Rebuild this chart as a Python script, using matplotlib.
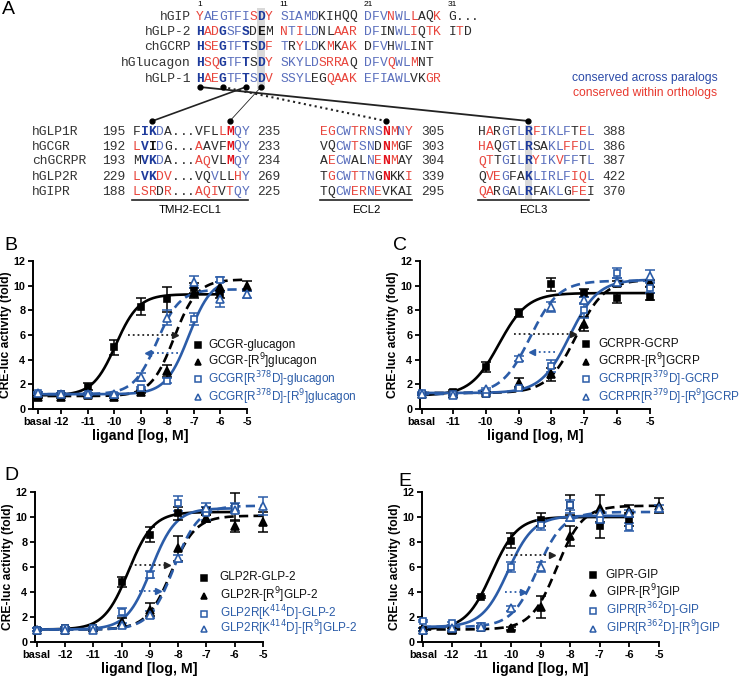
import numpy as np
import matplotlib.pyplot as plt

plt.rcParams['font.family'] = ['Liberation Sans', 'DejaVu Sans']

W, H = 745, 677

# ---------------- panel A: sequence alignments ----------------
top_names = ['hGIP', 'hGLP-2', 'chGCRP', 'hGlucagon', 'hGLP-1']
top_seqs = ['YAEGTFISDY SIAMDKIHQQ DFVNWLLAQK G...',
            'HADGSFSDEM NTILDNLAAR DFINWLIQTK ITD',
            'HSEGTFTSDF TRYLDKMKAK DFVHWLINT',
            'HSQGTFTSDY SKYLDSRRAQ DFVQWLMNT',
            'HAEGTFTSDV SSYLEGQAAK EFIAWLVKGR']
top_cols = ['rbbbbbbrBr bbbbbkkkkk bbbrbbrkkr kkkk',
            'BrrBbbBkKk rbrbbkkrrr bbkkbbrkrr krk',
            'BrrBbbBkBr bkrbbkrkrr kbbkbbkkk',
            'BrrBbbBkBr bbbbbrrrrk bbbrbbrkk',
            'BrrBbbBbBr bbbbkkrrrr bbbbbbkkrr']
top_numbers = ['1', '11', '21', '31']

bot_names = ['hGLP1R', 'hGCGR', 'chGCRPR', 'hGLP2R', 'hGIPR']
tm_start = ['195', '192', '193', '229', '188']
tm_seqs = ['FIKDA...VFLLMQY', 'LVIDG...AAVFMQY', 'MVKDA...AQVLMQY',
           'LVKDV...VQVLLHY', 'LSRDR...AQIVTQY']
tm_cols = ['kBBbkkkkkkkrRbb', 'rBKbkkkkrkkkRbb', 'kBBbkkkkrrkkRbb',
           'rBBrrkkkkkbkkrb', 'rrrkrkkkrrrkrbb']
tm_end = ['235', '233', '234', '269', '225']
ecl2_seqs = ['EGCWTRNSNMNY', 'VQCWTSNDNMGF', 'AECWALNENMAY',
             'TGCWTTNGNKKI', 'TQCWERNEVKAI']
ecl2_cols = ['rrbbrrbbRrbr', 'kkbbrbbkRrkk', 'krbbkkbrRrkk',
             'krbbrbbkRkkr', 'kkbbrrbrkkkk']
ecl2_end = ['305', '303', '304', '339', '295']
ecl3_seqs = ['HARGTLRFIKLFTEL', 'HAQGTLRSAKLFFDL', 'QTTGILRYIKVFFTL',
             'QVEGFAKLIRLFIQL', 'QARGALRFAKLGFEI']
ecl3_cols = ['krkbkbBrbbbbkrb', 'rrkbkbBkkbbrrbb', 'rrkbkbBrbbrbbkb',
             'krrbkkBbbbbbrrb', 'rrkbkbBkkbbkrrk']
ecl3_end = ['388', '386', '387', '422', '370']

# ---------------- panels B-E: CRE-luc data ----------------
BLUE = '#2b5ca8'
series_styles = [('s', 'k', True, '-'), ('^', 'k', True, '--'),
                 ('s', BLUE, False, '-'), ('^', BLUE, False, '--')]

b_labels = ['basal', '-12', '-11', '-10', '-9', '-8', '-7', '-6', '-5']
b_legend = ['GCGR-glucagon', 'GCGR-[R$^9$]glucagon',
            'GCGR[R$^{378}$D]-glucagon', 'GCGR[R$^{378}$D]-[R$^9$]glucagon']
b_y = [[1.1, 1.2, 1.8, 5.0, 8.3, 8.9, 9.8, 9.3, np.nan],
       [1.0, 1.0, 1.1, 1.0, 1.4, 3.1, 9.4, 9.9, 10.0],
       [1.3, 1.2, 1.2, 1.1, 1.7, 2.3, 7.3, 10.5, np.nan],
       [1.3, 1.2, 1.2, 1.2, 2.6, 7.4, 10.3, 8.9, 9.3]]
b_err = [[0.1, 0.1, 0.3, 0.6, 0.7, 1.0, 0.4, 0.3, np.nan],
         [0.1, 0.1, 0.1, 0.1, 0.1, 0.5, 0.4, 0.4, 0.4],
         [0.1, 0.1, 0.1, 0.1, 0.1, 0.2, 0.5, 0.2, np.nan],
         [0.1, 0.1, 0.1, 0.1, 0.3, 0.6, 0.5, 0.6, 0.3]]
b_fit = [(1.1, 9.3, -9.95), (1.05, 10.5, -7.75), (1.2, 10.6, -7.2), (1.2, 9.7, -8.4)]
b_arrows = [(6.0, -9.5, -7.7), (4.5, -7.6, -8.75)]

c_labels = ['basal', '-11', '-10', '-9', '-8', '-7', '-6', '-5']
c_legend = ['GCRPR-GCRP', 'GCRPR-[R$^9$]GCRP',
            'GCRPR[R$^{379}$D]-GCRP', 'GCRPR[R$^{379}$D]-[R$^9$]GCRP']
c_y = [[1.2, 1.4, 3.4, 7.8, 10.1, 9.4, 9.0, 9.1],
       [1.2, 1.2, 1.3, 2.1, 2.8, 6.9, 10.2, 10.2],
       [1.3, 1.2, 1.2, 1.7, 3.5, 8.0, 11.0, 9.8],
       [1.2, 1.1, 1.6, 4.1, 8.3, 8.8, 10.3, 10.8]]
c_err = [[0.1, 0.1, 0.4, 0.3, 0.5, 0.3, 0.4, 0.3],
         [0.1, 0.1, 0.1, 0.4, 0.5, 0.6, 0.2, 0.3],
         [0.1, 0.1, 0.1, 0.1, 0.5, 0.6, 0.4, 0.4],
         [0.1, 0.1, 0.1, 0.2, 0.4, 0.3, 0.3, 0.5]]
c_fit = [(1.1, 9.4, -9.6), (1.3, 10.5, -7.25), (1.3, 10.5, -7.45), (1.2, 10.4, -8.65)]
c_arrows = [(6.1, -9.15, -7.35), (4.6, -7.9, -8.6)]

d_labels = ['basal', '-12', '-11', '-10', '-9', '-8', '-7', '-6', '-5']
d_legend = ['GLP2R-GLP-2', 'GLP2R-[R$^9$]GLP-2',
            'GLP2R[K$^{414}$D]-GLP-2', 'GLP2R[K$^{414}$D]-[R$^9$]GLP-2']
d_y = [[1.0, 1.1, 1.1, 4.8, 8.6, 10.3, 10.5, 10.8, np.nan],
       [1.0, 1.0, 1.1, 1.6, 2.6, 7.5, 9.9, 9.3, 9.6],
       [1.0, 1.1, 1.1, 2.4, 5.4, 11.1, 10.3, 10.8, np.nan],
       [1.0, 1.0, 1.0, 1.4, 2.2, 6.7, 10.7, 10.6, 10.9]]
d_err = [[0.1, 0.1, 0.1, 0.4, 0.6, 0.5, 0.3, 1.1, np.nan],
         [0.1, 0.1, 0.1, 0.3, 0.5, 1.0, 0.3, 0.5, 0.8],
         [0.1, 0.1, 0.1, 0.3, 0.3, 0.6, 0.5, 0.3, np.nan],
         [0.1, 0.1, 0.1, 0.1, 0.3, 0.3, 0.4, 0.3, 0.7]]
d_fit = [(1.0, 10.4, -9.75), (1.0, 10.1, -8.25), (1.0, 10.7, -8.95), (1.0, 10.9, -8.15)]
d_arrows = [(6.2, -9.7, -8.4), (4.1, -9.4, -8.7)]

e_labels = ['basal', '-12', '-11', '-10', '-9', '-8', '-7', '-6', '-5']
e_legend = ['GIPR-GIP', 'GIPR-[R$^9$]GIP',
            'GIPR[R$^{362}$D]-GIP', 'GIPR[R$^{362}$D]-[R$^9$]GIP']
e_y = [[1.0, 0.95, 3.6, 8.1, 9.8, 11.0, 9.3, 9.8, np.nan],
       [1.0, 1.0, 1.2, 1.1, 2.8, 8.5, 10.7, 10.5, 10.9],
       [1.7, 1.5, 1.3, 6.0, 9.4, 11.0, 9.8, 9.2, np.nan],
       [1.0, 1.1, 1.2, 2.7, 6.0, 10.0, 10.3, 10.3, 10.7]]
e_err = [[0.1, 0.2, 0.1, 0.6, 0.5, 0.8, 1.0, 0.5, np.nan],
         [0.1, 0.1, 0.1, 0.1, 0.9, 0.8, 1.1, 0.5, 0.6],
         [0.1, 0.1, 0.2, 0.4, 0.4, 0.4, 0.3, 0.3, np.nan],
         [0.1, 0.1, 0.1, 0.2, 0.4, 0.3, 0.2, 0.3, 0.3]]
e_fit = [(1.0, 10.0, -10.65), (1.0, 10.9, -8.45), (1.2, 10.1, -10.1), (1.2, 10.4, -9.1)]
e_arrows = [(7.0, -10.15, -8.6), (4.0, -10.2, -9.6)]

COLMAP = {'r': '#e8453c', 'R': '#e3121b', 'b': '#5a6fbd', 'B': '#1d3a9c',
          'k': '#2a2a2a', 'K': '#111111'}
MONO = 'Liberation Mono'

fig = plt.figure(figsize=(W / 100, H / 100), dpi=100)

ax_a = fig.add_axes([0, 0, 1, 1])
ax_a.set_xlim(0, W)
ax_a.set_ylim(H, 0)
ax_a.axis('off')


def put_seq(x0, y, seq, cols, cw, fs=9.4):
    for j, (ch, c) in enumerate(zip(seq, cols)):
        if ch == ' ':
            continue
        ax_a.text(x0 + j * cw + cw / 2, y, ch, ha='center', va='center', fontsize=fs,
                  family=MONO, color=COLMAP[c],
                  fontweight='bold' if c.isupper() else 'normal')


ax_a.text(2, 10, 'A', fontsize=14, va='center', ha='left')

# top alignment
tx0, tcw = 196, 7.65
top_y = [16.5, 32, 47.5, 63, 79]
ax_a.add_patch(plt.Rectangle((tx0 + 8 * tcw, 8), tcw, 81, color='#d9d9d9', zorder=0, lw=0))
for lab, col in zip(top_numbers, [0, 11, 22, 33]):
    ax_a.text(tx0 + col * tcw + tcw / 2, 4, lab, fontsize=6, ha='center', va='center')
for name, seq, cols, y in zip(top_names, top_seqs, top_cols, top_y):
    ax_a.text(191, y, name, ha='right', va='center', fontsize=9.4, family=MONO, color='#333333')
    put_seq(tx0, y, seq, cols, tcw)

ax_a.text(645, 78, 'conserved across paralogs', color='#2b4aa8', fontsize=8.7, ha='center', va='center')
ax_a.text(645, 93, 'conserved within orthologs', color='#e8392f', fontsize=8.7, ha='center', va='center')

# bottom alignment
bcw = 7.75
tm_x0, ecl2_x0, ecl3_x0 = 133, 320, 478
bot_y = [132, 146.5, 161.5, 177, 192]
ax_a.add_patch(plt.Rectangle((ecl3_x0 + 6 * bcw, 125), bcw, 74, color='#d9d9d9', zorder=0, lw=0))
for i, y in enumerate(bot_y):
    ax_a.text(32, y, bot_names[i], ha='left', va='center', fontsize=9.4, family=MONO, color='#333333')
    ax_a.text(tm_x0 - 4 * bcw, y, tm_start[i], ha='left', va='center', fontsize=9.4, family=MONO, color='#333333')
    put_seq(tm_x0, y, tm_seqs[i], tm_cols[i], bcw)
    ax_a.text(tm_x0 + 16 * bcw, y, tm_end[i], ha='left', va='center', fontsize=9.4, family=MONO, color='#333333')
    put_seq(ecl2_x0, y, ecl2_seqs[i], ecl2_cols[i], bcw)
    ax_a.text(ecl2_x0 + 13 * bcw, y, ecl2_end[i], ha='left', va='center', fontsize=9.4, family=MONO, color='#333333')
    put_seq(ecl3_x0, y, ecl3_seqs[i], ecl3_cols[i], bcw)
    ax_a.text(ecl3_x0 + 16 * bcw, y, ecl3_end[i], ha='left', va='center', fontsize=9.4, family=MONO, color='#333333')

for (xa, xb), lab in zip([(132, 248), (320, 412), (478, 589)], ['TMH2-ECL1', 'ECL2', 'ECL3']):
    ax_a.plot([xa, xb], [199.5, 199.5], color='#222222', lw=1.2)
    ax_a.text((xa + xb) / 2, 210, lab, ha='center', va='center', fontsize=8.2)

# connectors between peptide residues and receptor residues
top_dot = {c: (tx0 + c * tcw + tcw / 2, 87) for c in (0, 3, 6, 8)}
bot_dot = {'K': (tm_x0 + 2 * bcw + bcw / 2, 121), 'M': (tm_x0 + 12 * bcw + bcw / 2, 121),
           'N': (ecl2_x0 + 8 * bcw + bcw / 2, 121), 'R': (ecl3_x0 + 6 * bcw + bcw / 2, 121)}
links = [(0, 'R', '-', 1.3), (3, 'N', ':', 1.5), (6, 'K', '-', 1.2), (8, 'M', '-', 0.6)]
for c, key, ls, lw in links:
    (x1, y1), (x2, y2) = top_dot[c], bot_dot[key]
    ax_a.plot([x1, x2], [y1, y2], color='#222222', ls=ls, lw=lw)
for x, y in list(top_dot.values()) + list(bot_dot.values()):
    ax_a.plot(x, y, 'o', color='black', ms=3.5)


# ---------------- dose-response panels ----------------
def px_axes(left, top, right, bottom):
    return fig.add_axes([left / W, 1 - bottom / H, (right - left) / W, (bottom - top) / H])


def draw_panel(ax, labels, basal_x, xmin, ys, errs, fits, arrows, legend, leg_x, leg_dx, leg_rows):
    xs = [basal_x] + [float(l) for l in labels[1:]]
    for (mk, col, filled, ls), y, e, (bot, top, ec50) in zip(series_styles, ys, errs, fits):
        y = np.array(y)
        ok = ~np.isnan(y)
        xv = np.array(xs)[ok]
        ax.errorbar(xv, y[ok], yerr=np.array(e)[ok], fmt='none', ecolor=col,
                    elinewidth=1.1, capsize=3.5, capthick=1.1, zorder=3, clip_on=False)
        ax.plot(xv, y[ok], mk, ms=5 if mk == 's' else 5.5, mec=col, mew=1.2,
                mfc=col if filled else 'white', zorder=4, clip_on=False)
        xc = np.linspace(xmin, xv[-1], 300)
        ax.plot(xc, bot + (top - bot) / (1 + 10 ** (ec50 - xc)), color=col, ls=ls,
                lw=1.9, zorder=2, dashes=(3.5, 2) if ls == '--' else (None, None))
    for (y, xa, xb), col in zip(arrows, ['#222222', BLUE]):
        ax.plot([xa, xb], [y, y], ls=':', color=col, lw=1.3, zorder=5)
        ax.plot(xb, y, '>' if xb > xa else '<', color=col, ms=5, zorder=5)
    for i, (lab, (mk, col, filled, ls)) in enumerate(zip(legend, series_styles)):
        ax.plot(leg_x, leg_rows[i], mk, transform=ax.transAxes, ms=4.5, mec=col, mew=1.1,
                mfc=col if filled else 'white', clip_on=False)
        ax.text(leg_x + leg_dx, leg_rows[i], lab, transform=ax.transAxes, fontsize=8.5,
                va='center', ha='left', color='#111111' if i < 2 else BLUE)
    ax.set_xlim(xmin, -5)
    ax.set_ylim(0, 12)
    ax.set_yticks(range(0, 13, 2))
    ax.set_xticks(xs)
    ax.set_xticklabels(labels)
    for s in ['top', 'right']:
        ax.spines[s].set_visible(False)
    for s in ['left', 'bottom']:
        ax.spines[s].set_linewidth(1.4)
    ax.tick_params(width=1.3, length=3.5, labelsize=7.8, pad=2)
    for t in ax.get_xticklabels() + ax.get_yticklabels():
        t.set_fontweight('bold')
    ax.set_ylabel('CRE-luc activity (fold)', fontsize=8.7, fontweight='bold', labelpad=1)
    ax.set_xlabel('ligand [log, M]', fontsize=10.2, fontweight='bold', labelpad=1.5)


ax_b = px_axes(33, 261, 247, 409)
draw_panel(ax_b, b_labels, -12.9, -13.07, b_y, b_err, b_fit, b_arrows, b_legend,
           0.77, 0.05, [0.43, 0.32, 0.20, 0.08])
ax_c = px_axes(420, 261, 650, 409)
draw_panel(ax_c, c_labels, -11.95, -12.0, c_y, c_err, c_fit, c_arrows, c_legend,
           0.72, 0.055, [0.44, 0.32, 0.20, 0.08])
ax_d = px_axes(35, 492, 263, 642)
draw_panel(ax_d, d_labels, -13.0, -13.06, d_y, d_err, d_fit, d_arrows, d_legend,
           0.74, 0.07, [0.43, 0.31, 0.19, 0.09])
ax_e = px_axes(422, 492, 659, 642)
draw_panel(ax_e, e_labels, -12.97, -13.0, e_y, e_err, e_fit, e_arrows, e_legend,
           0.72, 0.055, [0.45, 0.33, 0.21, 0.09])

for lab, x, y in [('B', 4, 246), ('C', 393, 246), ('D', 4, 476), ('E', 398, 481)]:
    ax_a.text(x, y, lab, fontsize=14, ha='left', va='center')

fig.savefig('out.png', dpi=100)
